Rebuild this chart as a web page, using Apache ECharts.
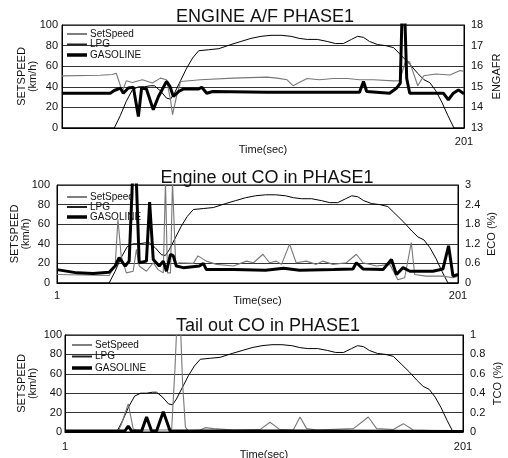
<!DOCTYPE html>
<html>
<head>
<meta charset="utf-8">
<script src="https://cdn.jsdelivr.net/npm/echarts@6/dist/echarts.min.js"></script>
<style>
html,body{margin:0;padding:0;background:#fff;}
#c{width:508px;height:458px;}
</style>
</head>
<body>
<div id="c"></div>
<script>
// ---- Data (time in seconds) ----
const seriesNames = ['SetSpeed', 'LPG', 'GASOLINE'];
const titles = ['ENGINE A/F PHASE1', 'Engine out CO in PHASE1', 'Tail out CO in PHASE1'];
const rightAxisNames = ['ENGAFR', 'ECO (%)', 'TCO (%)'];
const xLabelValues = [[201], [1, 201], [1, 201]];

// Set speed (km/h), same drive cycle in all three panels
const speedT = [1,27,30,33,36,39,42,45,47,50,53,55,57,60,63,66,69,74,79,85,90,95,100,105,110,115,119,123,128,133,137,141,145,148,151,154,158,162,166,170,174,178,181,184,187,190,193,196,201];
const speedV = [0,0,12,26,37,40,40,41,41,36,29,28,34,46,58,68,75,76,77,81,84,87,89,90,90,89,87,86,86,84,82,82,86,89,88,84,81,80,78,70,62,53,47,44,36,25,12,0,0];

// Panel 1: engine A/F ratio
const lpgAfT = [1,20,26,28,31,33,36,41,46,50,53,55,56,58,60,70,86,103,108,113,116,119,123,129,136,143,149,156,166,169,172,174,178,181,187,194,199,201];
const lpgAfV = [15.53,15.56,15.6,15.66,14.77,15.29,15.21,15.34,15.18,15.42,15.34,14.37,13.65,14.53,15.26,15.34,15.42,15.47,15.42,15.34,15.05,15.21,15.4,15.34,15.4,15.4,15.34,15.34,15.29,15.3,16.28,16.2,15.05,15.54,15.62,15.57,15.79,15.75];
const gasAfT = [1,25,27,30,31.5,34,36.5,39,40.6,43,46.4,49,53,54.7,56.4,59,61.3,68.8,70.5,73,76,103,149,151,152.6,164,167.5,169.3,170.2,171.5,172.5,174,190.7,193.2,195.7,198.2,201];
const gasAfV = [14.69,14.69,14.82,14.94,14.69,14.94,14.98,13.56,14.94,14.89,13.89,14.53,15.26,15.02,14.53,14.77,14.89,14.89,14.98,14.69,14.77,14.73,14.73,15.26,14.77,14.69,14.94,15.18,18.6,18.6,15.4,14.69,14.69,14.37,14.69,14.85,14.66];

// Panel 2: engine-out CO (%)
const lpgEcoT = [1,27,30,31.4,33,35.6,39,40.6,42,45.6,49,51.4,54,55.1,56.1,57.6,58.6,60.2,62,69,71.3,75.5,80.5,89,95.5,99,103.7,107,110.4,113,117,120.3,125.3,130.3,133.6,138.7,145.3,150.3,153.6,160.3,167,171,174.4,177.7,179.4,185,193.5,198.5,201];
const lpgEcoV = [0.26,0.23,0.52,1.95,0.83,0.31,0.36,1.03,0.52,0.36,0.62,0.41,0.31,3.1,0.31,0.31,3.1,0.57,0.62,0.6,0.83,0.67,0.57,0.52,0.67,0.62,0.88,0.62,0.67,0.57,1.19,0.62,0.67,0.57,0.67,0.57,0.62,0.88,0.62,0.52,0.57,0.1,0.16,1.24,0.26,0.21,0.21,0.16,0.21];
const gasEcoT = [1,11,19,27,30,32,35,37,38.6,40.6,42,45.6,47.2,49,52,54,55.6,57.6,59,60.5,64,72,74,75.5,89,105,114,122,139,148.6,150.3,153.6,163.6,167.8,170.3,173.6,177,188.5,193.5,196.3,198.5,201];
const gasEcoV = [0.41,0.31,0.29,0.33,0.52,0.78,0.52,0.67,3.1,3.1,0.62,0.67,2.48,0.72,0.52,0.67,0.36,0.88,0.83,0.52,0.47,0.52,0.6,0.41,0.41,0.39,0.45,0.39,0.41,0.43,0.62,0.43,0.41,0.72,0.26,0.47,0.36,0.36,0.43,1.14,0.21,0.26];

// Panel 3: tail-out CO (%)
const lpgTcoT = [1,27.8,29.5,32.8,35.3,37,52,54.6,56.3,57.1,59.1,60.1,61.5,63,69,71.4,75.6,85.6,99,104,109,115.7,119.1,122.4,127.4,146,153.4,157.6,166,171,176,201];
const lpgTcoV = [0.01,0.01,0.09,0.29,0.03,0.02,0.02,0.03,0.67,1.05,1.05,0.5,0.05,0.01,0.02,0.045,0.035,0.02,0.025,0.1,0.025,0.02,0.155,0.035,0.02,0.035,0.155,0.035,0.025,0.086,0.02,0.007];
const gasTcoT = [1,31,32.8,34.5,39.5,42,44.5,47,50.4,53.8,120,201];
const gasTcoV = [0.01,0.01,0.06,0.01,0.01,0.155,0.01,0.01,0.21,0.01,0.01,0.005];

// ---- Layout ----
const FONT = 'Liberation Sans';
const panels = [
  {grid:{left:62,right:44,top:25,height:103}, right:{min:13,max:18,interval:1}, lpg:[lpgAfT,lpgAfV], gas:[gasAfT,gasAfV],
   titleX:265, titleTop:8, legend:{left:67,top:29,gap:0.5}, lm:4, leftGap:24, rightGap:27, xMargin:8, xNameGap:16},
  {grid:{left:57,right:50,top:185,height:98}, right:{min:0,max:3,interval:0.6}, lpg:[lpgEcoT,lpgEcoV], gas:[gasEcoT,gasEcoV],
   titleX:267, titleTop:169, legend:{left:67,top:192,gap:0}, lm:7, leftGap:26, rightGap:28, xMargin:7, xNameGap:12},
  {grid:{left:65,right:45,top:335,height:97}, right:{min:0,max:1,interval:0.2}, lpg:[lpgTcoT,lpgTcoV], gas:[gasTcoT,gasTcoV],
   titleX:268, titleTop:317, legend:{left:72,top:340,gap:1.5}, lm:3, leftGap:27, rightGap:29, xMargin:9, xNameGap:17}
];

// legend glyphs: horizontal bars of different thickness inside a 20x8 box
function barIcon(th) {
  const y0 = (8 - th) / 2;
  return 'path://M0,0h0.05v0.05h-0.05zM0,' + y0 + 'h20v' + th + 'h-20zM19.95,7.95h0.05v0.05h-0.05z';
}
const legendIcons = [barIcon(1), barIcon(2), barIcon(3.5)];

function zip(t, v) { return t.map((x, i) => [x, v[i]]); }

const option = {
  animation: false,
  backgroundColor: '#fff',
  textStyle: {fontFamily: FONT, color: '#000'},
  title: [], grid: [], xAxis: [], yAxis: [], legend: [], series: []
};

panels.forEach((p, i) => {
  option.title.push({
    text: titles[i], left: p.titleX, top: p.titleTop, textAlign: 'center', padding: 0,
    textStyle: {fontFamily: FONT, fontSize: 18, fontWeight: 'normal', color: '#111'}
  });
  option.grid.push(Object.assign({show: true, borderColor: '#000', borderWidth: 1, containLabel: false, outerBoundsMode: 'none'}, p.grid));
  option.xAxis.push({
    type: 'value', gridIndex: i, min: 1, max: 201,
    axisLine: {show: true, lineStyle: {color: '#000', width: 1}},
    axisTick: {show: false},
    splitLine: {show: false},
    axisLabel: {customValues: xLabelValues[i], fontSize: 11, color: '#111', margin: p.xMargin, fontFamily: FONT},
    name: 'Time(sec)', nameLocation: 'middle', nameGap: p.xNameGap, nameMoveOverlap: false,
    nameTextStyle: {fontSize: 11, color: '#111', fontFamily: FONT}
  });
  option.yAxis.push({
    type: 'value', gridIndex: i, position: 'left', min: 0, max: 100, interval: 20,
    axisLine: {show: true, lineStyle: {color: '#000'}},
    axisTick: {show: false},
    splitLine: {show: true, lineStyle: {color: '#333', width: 1}},
    axisLabel: {fontSize: 11, color: '#111', margin: p.lm, fontFamily: FONT},
    name: 'SETSPEED\n(km/h)', nameLocation: 'middle', nameRotate: 90, nameGap: p.leftGap, nameMoveOverlap: false,
    nameTextStyle: {fontSize: 11, lineHeight: 11, color: '#111', fontFamily: FONT}
  });
  option.yAxis.push({
    type: 'value', gridIndex: i, position: 'right', min: p.right.min, max: p.right.max, interval: p.right.interval,
    axisLine: {show: true, lineStyle: {color: '#000'}},
    axisTick: {show: false},
    splitLine: {show: false},
    axisLabel: {fontSize: 11, color: '#111', margin: 7, fontFamily: FONT},
    name: rightAxisNames[i], nameLocation: 'middle', nameRotate: 90, nameGap: p.rightGap, nameMoveOverlap: false,
    nameTextStyle: {fontSize: 11, color: '#111', fontFamily: FONT}
  });
  option.legend.push({
    orient: 'vertical', left: p.legend.left, top: p.legend.top,
    data: seriesNames.map((n, k) => ({name: n, icon: legendIcons[k]})),
    itemWidth: 20, itemHeight: 8, itemGap: p.legend.gap, padding: 0,
    textStyle: {fontSize: 10, color: '#111', fontFamily: FONT, padding: [0, 0, 0, -2]},
    selectedMode: false
  });
  option.series.push({
    name: 'SetSpeed', type: 'line', xAxisIndex: i, yAxisIndex: 2 * i, data: zip(speedT, speedV),
    symbol: 'none', lineStyle: {color: '#000', width: 1}, itemStyle: {color: '#000'}, z: 3
  });
  option.series.push({
    name: 'LPG', type: 'line', xAxisIndex: i, yAxisIndex: 2 * i + 1, data: zip(p.lpg[0], p.lpg[1]),
    symbol: 'none', lineStyle: {color: '#777', width: 1.1}, itemStyle: {color: '#222'}, z: 4
  });
  option.series.push({
    name: 'GASOLINE', type: 'line', xAxisIndex: i, yAxisIndex: 2 * i + 1, data: zip(p.gas[0], p.gas[1]),
    symbol: 'none', lineStyle: {color: '#000', width: 3}, itemStyle: {color: '#000'}, z: 5
  });
});

const chart = echarts.init(document.getElementById('c'), null, {renderer: 'canvas'});
chart.setOption(option);
</script>
</body>
</html>
